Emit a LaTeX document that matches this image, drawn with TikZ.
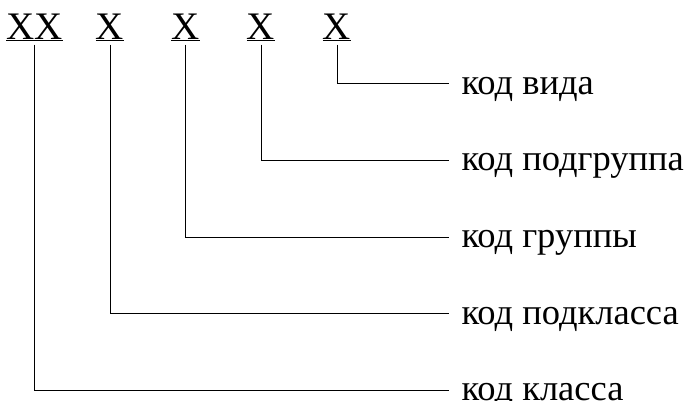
\documentclass[tikz,border=0pt]{standalone}
\usepackage{fontspec}
\setmainfont{Liberation Serif}
\usetikzlibrary{positioning}

\begin{document}
\begin{tikzpicture}[x=1pt, y=-1pt, line width=1pt,
    font=\fontsize{39}{47}\selectfont,
    code/.style={inner sep=0pt, anchor=base},
    field/.style={font=\fontsize{36.5}{44}\selectfont, inner xsep=12pt, inner ysep=0pt, text height=21pt, text depth=0pt, anchor=west},
    link/.style={shorten <=3pt}]
  \useasboundingbox (0,0) rectangle (693,400);
  % code digits
  \node[code] (C1) at (34.5,39) {\underline{XX}};
  \node[code] (C2) at (110,39) {\underline{X}};
  \node[code] (C3) at (185.5,39) {\underline{X}};
  \node[code] (C4) at (261,39) {\underline{X}};
  \node[code] (C5) at (337,39) {\underline{X}};
  % field names
  \node[field] (F5) at (449,83.6) {код вида};
  \node[field, below=54.7pt of F5.south west, anchor=north west] (F4) {код подгруппа};
  \node[field, below=54.7pt of F4.south west, anchor=north west] (F3) {код группы};
  \node[field, below=54.7pt of F3.south west, anchor=north west] (F2) {код подкласса};
  \node[field, below=54.7pt of F2.south west, anchor=north west] (F1) {код класса};
  % connectors
  \draw[link] (C5.south) |- (F5.west);
  \draw[link] (C4.south) |- (F4.west);
  \draw[link] (C3.south) |- (F3.west);
  \draw[link] (C2.south) |- (F2.west);
  \draw[link] (C1.south) |- (F1.west);
\end{tikzpicture}
\end{document}
